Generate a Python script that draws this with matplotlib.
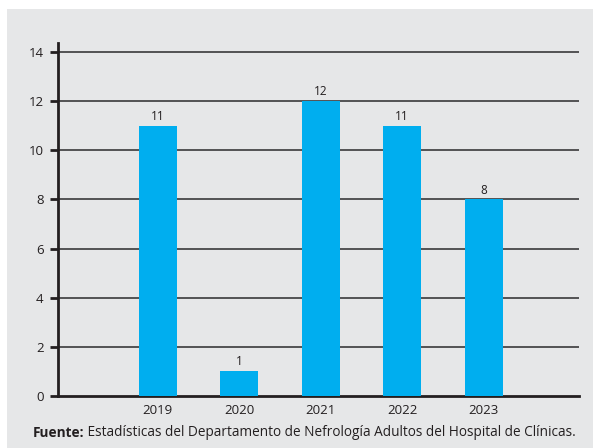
import matplotlib
matplotlib.use("Agg")
import matplotlib.pyplot as plt
import numpy as np

years = ["2019", "2020", "2021", "2022", "2023"]
counts = [11, 1, 12, 11, 8]
y_ticks = [0, 2, 4, 6, 8, 10, 12, 14]
source_label = "Fuente:"
source_text = " Estadísticas del Departamento de Nefrología Adultos del Hospital de Clínicas."

plt.rcParams['font.family'] = ['Open Sans', 'DejaVu Sans']

bg = '#e6e7e8'
bar_color = '#00aeef'
dark = '#231f20'

fig = plt.figure(figsize=(5.97, 4.48), dpi=100)
fig.patch.set_facecolor('white')
# grey panel behind the chart
fig.patches.append(plt.Rectangle((7/597, 0), 586/597, 1 - 9/448,
                                 transform=fig.transFigure, facecolor=bg,
                                 edgecolor='none', zorder=-1))

ax = fig.add_axes([57.5/597, 1 - 396/448, (579 - 57.5)/597, (396 - 43)/448])
ax.set_facecolor('none')

x = np.arange(len(years))
ax.bar(x, counts, width=0.47, color=bar_color, zorder=3)
for xi, v in zip(x, counts):
    ax.text(xi, v + 0.12, str(v), ha='center', va='bottom', fontsize=8.5, color=dark)

ax.set_xlim(-1.23, 5.17)
ax.set_ylim(0, 14.37)
ax.set_yticks(y_ticks)
ax.set_xticks(x)
ax.set_xticklabels(years)
for yt in y_ticks[1:]:
    ax.axhline(yt, color='#3a3a3a', linewidth=1.2, zorder=1)

for s in ['top', 'right']:
    ax.spines[s].set_visible(False)
ax.spines['left'].set_linewidth(2)
ax.spines['bottom'].set_linewidth(2)
ax.spines['left'].set_color(dark)
ax.spines['bottom'].set_color(dark)
ax.tick_params(axis='y', length=6, width=2, color=dark, labelsize=9.5, labelcolor=dark, pad=4)
ax.tick_params(axis='x', length=0, labelsize=9.5, labelcolor=dark, pad=6)

# source line: bold label followed by plain text
t1 = fig.text(33/597, 1 - 437/448, source_label, fontsize=9.8, color=dark,
              fontweight='bold', va='baseline')
ax.annotate(source_text, xy=(1, 0), xycoords=t1, fontsize=9.8, color=dark,
            va='bottom', annotation_clip=False)

fig.savefig("out.png", dpi=100, facecolor=fig.get_facecolor())
